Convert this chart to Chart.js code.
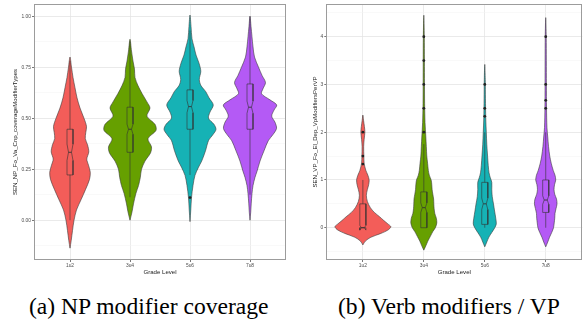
<!DOCTYPE html>
<html><head><meta charset="utf-8">
<script src="https://cdn.jsdelivr.net/npm/chart.js@4.4.1/dist/chart.umd.min.js"></script>
<style>
html,body{margin:0;padding:0;background:#fff;}
#wrap{position:relative;width:587px;height:325px;overflow:hidden;background:#fff;}
.cv{position:absolute;top:0;}
.cap{position:absolute;font-family:"Liberation Serif","Times New Roman",serif;font-size:23.6px;line-height:23.6px;white-space:nowrap;color:#000;}
</style></head><body>
<div id="wrap">
<canvas id="c1" class="cv" width="292" height="280" style="left:0px"></canvas>
<canvas id="c2" class="cv" width="287" height="280" style="left:300px"></canvas>
<div class="cap" style="left:29px;top:295px">(a) NP modifier coverage</div>
<div class="cap" style="left:338px;top:295px">(b) Verb modifiers / VP</div>
</div>
<script>
// ---------- shared ----------
const categories = ['1u2', '3u4', '5u6', '7u8'];
const fillColors = ['#F35D59', '#66A000', '#16B2B5', '#B45AF5'];
const xTitle = 'Grade Level';

// ---------- panel (a) ----------
const npTitle = 'SEN_NP_Fo_Va_Cnp_coverageModifierTypes';
const npTickValues = [0, 0.25, 0.5, 0.75, 1];
const npTickLabels = ['0.00', '0.25', '0.50', '0.75', '1.00'];
const npMinorTicks = [-0.125, 0.125, 0.375, 0.625, 0.875];
const npViolinY = [
  [-0.137, -0.10, -0.05, 0.0, 0.05, 0.10, 0.15, 0.20, 0.235, 0.27, 0.30, 0.335, 0.37, 0.40, 0.43, 0.46, 0.50, 0.55, 0.60, 0.65, 0.70, 0.75, 0.80],
  [0, 0.04, 0.08, 0.13, 0.17, 0.21, 0.25, 0.29, 0.33, 0.36, 0.40, 0.44, 0.47, 0.51, 0.55, 0.58, 0.62, 0.66, 0.70, 0.74, 0.78, 0.83, 0.887],
  [-0.007, 0.05, 0.11, 0.17, 0.22, 0.26, 0.29, 0.34, 0.39, 0.42, 0.445, 0.47, 0.50, 0.53, 0.565, 0.60, 0.63, 0.66, 0.69, 0.73, 0.77, 0.81, 0.85, 0.89, 0.95, 1.006],
  [0, 0.04, 0.08, 0.13, 0.17, 0.21, 0.24, 0.29, 0.34, 0.39, 0.42, 0.45, 0.48, 0.51, 0.54, 0.565, 0.59, 0.62, 0.645, 0.675, 0.71, 0.75, 0.80, 0.85, 0.90, 0.95, 1.0]
];
const npViolinHalfWidth = [
  [0, .020, .042, .067, .108, .183, .258, .325, .338, .308, .280, .313, .292, .255, .263, .275, .233, .167, .117, .083, .050, .025, 0],
  [0, .033, .058, .097, .142, .172, .192, .25, .342, .358, .30, .433, .417, .283, .333, .283, .203, .133, .083, .075, .05, .025, 0],
  [0, .013, .025, .05, .083, .142, .195, .258, .308, .383, .433, .40, .308, .333, .388, .317, .263, .183, .155, .18, .15, .10, .067, .033, .017, 0],
  [0, .012, .02, .033, .05, .083, .117, .167, .233, .305, .383, .442, .417, .362, .40, .445, .333, .192, .217, .258, .20, .142, .075, .05, .033, .017, 0]
];
const npQ1 = [0.222, 0.333, 0.446, 0.446];
const npMedian = [0.333, 0.446, 0.557, 0.554];
const npQ3 = [0.446, 0.554, 0.639, 0.668];
const npNotchLo = [0.293, 0.421, 0.527, 0.524];
const npNotchHi = [0.373, 0.471, 0.587, 0.584];
const npWhiskerLo = [0.0, 0.113, 0.222, 0.125];
const npWhiskerHi = [0.78, 0.875, 0.93, 1.0];
const npOutliers = [[], [], [0.111], []];

// ---------- panel (b) ----------
const vpTitle = 'SEN_VP_Fo_El_Dep_VpModifiersPerVP';
const vpTickValues = [0, 1, 2, 3, 4];
const vpTickLabels = ['0', '1', '2', '3', '4'];
const vpMinorTicks = [-0.5, 0.5, 1.5, 2.5, 3.5, 4.5];
const vpViolinY = [
  [-0.36, -0.28, -0.2, -0.12, -0.05, 0.02, 0.08, 0.15, 0.23, 0.32, 0.42, 0.55, 0.68, 0.8, 0.9, 1.0, 1.1, 1.2, 1.35, 1.5, 1.7, 1.85, 2.0, 2.12, 2.25, 2.36],
  [-0.47, -0.38, -0.28, -0.18, -0.08, 0.0, 0.1, 0.2, 0.3, 0.4, 0.5, 0.6, 0.7, 0.8, 0.9, 1.0, 1.1, 1.2, 1.35, 1.5, 1.7, 1.9, 2.2, 2.6, 3.0, 3.5, 4.0, 4.45],
  [-0.4, -0.3, -0.2, -0.1, 0.0, 0.08, 0.2, 0.35, 0.5, 0.65, 0.8, 0.95, 1.05, 1.15, 1.3, 1.5, 1.75, 2.0, 2.3, 2.7, 3.1, 3.42],
  [-0.4, -0.3, -0.2, -0.1, 0.0, 0.1, 0.2, 0.3, 0.4, 0.5, 0.6, 0.7, 0.8, 0.9, 1.0, 1.1, 1.2, 1.35, 1.5, 1.7, 1.9, 2.1, 2.5, 3.0, 3.5, 4.0, 4.4]
];
const vpViolinHalfWidth = [
  [0, .041, .131, .295, .41, .459, .41, .344, .274, .189, .123, .074, .057, .074, .095, .103, .082, .049, .021, .016, .013, .021, .033, .025, .011, 0],
  [0, .033, .066, .107, .148, .189, .213, .205, .18, .169, .164, .161, .148, .136, .131, .12, .09, .074, .062, .049, .041, .033, .02, .013, .011, .01, .008, 0],
  [0, .033, .066, .115, .164, .189, .18, .161, .143, .123, .115, .115, .09, .07, .057, .046, .033, .025, .016, .011, .008, 0],
  [0, .033, .062, .098, .128, .139, .148, .152, .169, .185, .177, .148, .136, .144, .164, .152, .123, .09, .066, .046, .033, .02, .013, .011, .01, .008, 0]
];
const vpQ1 = [0, 0, 0.07, 0.32];
const vpMedian = [0, 0.42, 0.5, 0.58];
const vpQ3 = [0.5, 0.75, 0.95, 1.0];
const vpNotchLo = [-0.05, 0.32, 0.38, 0.49];
const vpNotchHi = [0.05, 0.52, 0.62, 0.67];
const vpWhiskerLo = [0, 0, 0, 0];
const vpWhiskerHi = [1.0, 1.75, 2.0, 2.0];
const vpOutliers = [[1.333, 1.5, 2], [2, 2.5, 3, 3.5, 4], [2.333, 2.5, 3], [2.5, 2.667, 3, 4]];

// ---------- drawing ----------
const FONT = 'Liberation Sans, Arial, sans-serif';
const LINE = '#333333';
const BOX_HALF = 0.05, NOTCH_HALF = 0.025;

const panelBorder = {
  id: 'panelBorder',
  afterDatasetsDraw(chart) {
    const a = chart.chartArea, c = chart.ctx;
    c.save();
    c.strokeStyle = '#9c9c9c';
    c.lineWidth = 1;
    c.strokeRect(Math.round(a.left) + 0.5, Math.round(a.top) + 0.5,
      Math.round(a.right - a.left) - 1, Math.round(a.bottom - a.top) - 1);
    c.restore();
  }
};

function lineDs(pts, extra) {
  return Object.assign({type: 'line', data: pts, borderColor: LINE, borderWidth: 0.6,
    pointRadius: 0, fill: false, tension: 0, order: 1}, extra || {});
}

function buildPanel(canvasId, p) {
  const ds = [];
  p.violinY.forEach((ys, i) => {
    const ws = p.violinW[i];
    const pts = [];
    for (let k = 0; k < ys.length; k++) pts.push({x: i + ws[k], y: ys[k]});
    for (let k = ys.length - 2; k >= 0; k--) pts.push({x: i - ws[k], y: ys[k]});
    ds.push(lineDs(pts, {fill: 'shape', backgroundColor: fillColors[i], borderColor: '#3a3a3a',
      borderWidth: 0.6, tension: 0.3, order: 3}));
  });
  categories.forEach((c, i) => {
    const q1 = p.q1[i], q3 = p.q3[i], md = p.med[i], nl = p.nLo[i], nh = p.nHi[i];
    if (p.wLo[i] < q1) ds.push(lineDs([{x: i, y: p.wLo[i]}, {x: i, y: q1}]));
    if (p.wHi[i] > q3) ds.push(lineDs([{x: i, y: q3}, {x: i, y: p.wHi[i]}]));
    ds.push(lineDs([
      {x: i - BOX_HALF, y: q1}, {x: i - BOX_HALF, y: nl}, {x: i - NOTCH_HALF, y: md},
      {x: i - BOX_HALF, y: nh}, {x: i - BOX_HALF, y: q3}, {x: i + BOX_HALF, y: q3},
      {x: i + BOX_HALF, y: nh}, {x: i + NOTCH_HALF, y: md}, {x: i + BOX_HALF, y: nl},
      {x: i + BOX_HALF, y: q1}, {x: i - BOX_HALF, y: q1}
    ]));
    ds.push(lineDs([{x: i - NOTCH_HALF, y: md}, {x: i + NOTCH_HALF, y: md}], {borderWidth: 0.9}));
    if (p.out[i].length) {
      ds.push({type: 'scatter', data: p.out[i].map(v => ({x: i, y: v})), pointRadius: 1.4,
        pointBackgroundColor: '#222', pointBorderWidth: 0, order: 0});
    }
  });

  const allY = p.tickValues.concat(p.minor).sort((a, b) => a - b);
  const isMajor = v => p.tickValues.indexOf(v) >= 0;

  new Chart(document.getElementById(canvasId), {
    type: 'scatter',
    data: {datasets: ds},
    options: {
      responsive: false, animation: false, devicePixelRatio: 1,
      layout: {padding: p.padding},
      plugins: {legend: {display: false}, tooltip: {enabled: false}},
      scales: {
        x: {
          type: 'linear', min: -0.6, max: 3.6,
          afterBuildTicks: s => { s.ticks = categories.map((c, i) => ({value: i})); },
          afterFit: s => { s.height = 20; },
          ticks: {callback: v => categories[v], font: {family: FONT, size: 4.9}, color: '#4D4D4D',
            padding: 0.5, autoSkip: false, maxRotation: 0},
          grid: {color: '#E6E6E6', lineWidth: 0.8, tickLength: 2, tickColor: '#555'},
          border: {display: false},
          title: {display: true, text: xTitle, font: {family: FONT, size: 6.1}, color: '#1a1a1a',
            padding: {top: 0, bottom: 3.8}}
        },
        y: {
          type: 'linear', min: p.yMin, max: p.yMax,
          afterBuildTicks: s => { s.ticks = allY.map(v => ({value: v})); },
          afterFit: s => { s.width = p.yWidth; },
          ticks: {callback: v => { const k = p.tickValues.indexOf(v); return k >= 0 ? p.tickLabels[k] : ''; },
            font: {family: FONT, size: 4.9}, color: '#4D4D4D', padding: 1, autoSkip: false},
          grid: {
            color: c => isMajor(c.tick.value) ? '#E4E4E4' : '#F3F3F3',
            lineWidth: c => isMajor(c.tick.value) ? 0.8 : 0.5,
            tickLength: 2,
            tickColor: c => isMajor(c.tick.value) ? '#555' : 'rgba(0,0,0,0)'
          },
          border: {display: false},
          title: {display: true, text: p.title, font: {family: FONT, size: 6.1}, color: '#1a1a1a',
            padding: {top: p.titlePad, bottom: 0}}
        }
      }
    },
    plugins: [panelBorder]
  });
}

buildPanel('c1', {
  violinY: npViolinY, violinW: npViolinHalfWidth, q1: npQ1, med: npMedian, q3: npQ3,
  nLo: npNotchLo, nHi: npNotchHi, wLo: npWhiskerLo, wHi: npWhiskerHi, out: npOutliers,
  tickValues: npTickValues, tickLabels: npTickLabels, minor: npMinorTicks,
  yMin: -0.195, yMax: 1.06, title: npTitle, yWidth: 34, titlePad: 12.1,
  padding: {top: 4, right: 6, left: 0, bottom: 0}
});
buildPanel('c2', {
  violinY: vpViolinY, violinW: vpViolinHalfWidth, q1: vpQ1, med: vpMedian, q3: vpQ3,
  nLo: vpNotchLo, nHi: vpNotchHi, wLo: vpWhiskerLo, wHi: vpWhiskerHi, out: vpOutliers,
  tickValues: vpTickValues, tickLabels: vpTickLabels, minor: vpMinorTicks,
  yMin: -0.676, yMax: 4.685, title: vpTitle, yWidth: 26.3, titlePad: 11.8,
  padding: {top: 4, right: 4.7, left: 0, bottom: 0}
});
</script>
</body></html>
